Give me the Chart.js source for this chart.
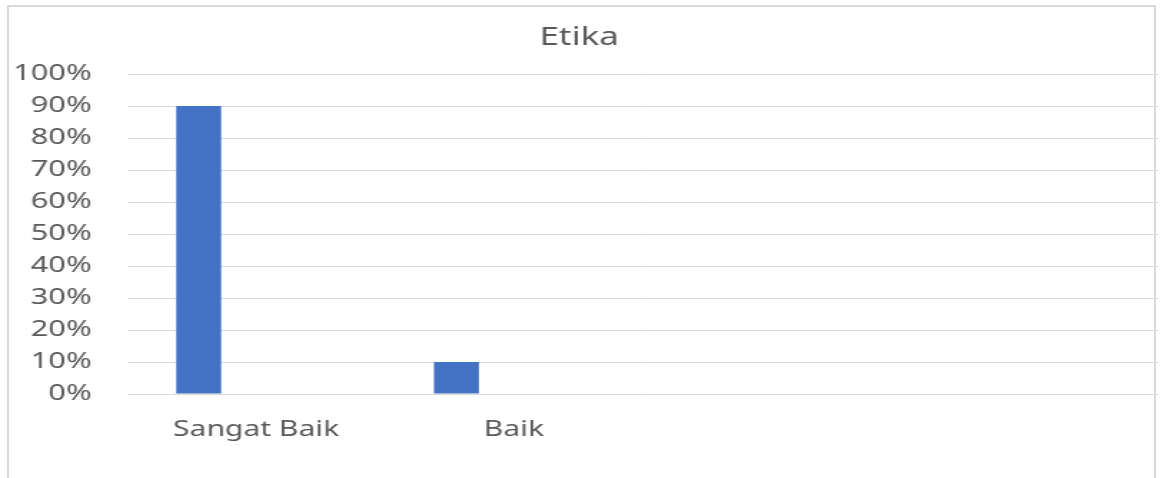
<!DOCTYPE html>
<html>
<head>
<meta charset="utf-8">
<script src="https://cdn.jsdelivr.net/npm/chart.js@4.4.1/dist/chart.umd.min.js"></script>
<style>
  html, body { margin: 0; padding: 0; background: #fff; overflow: hidden; }
  body { width: 1160px; height: 478px; position: relative; }
  #frame {
    position: absolute; left: 7px; top: 5px; width: 1149px; height: 490px;
    border: 2px solid #dadada; box-sizing: border-box;
  }
  /* the original picture is stretched horizontally, so the chart is too */
  #wrap {
    position: absolute; left: 0; top: 0; width: 811px; height: 478px;
    transform: scaleX(1.43); transform-origin: 0 0;
  }
</style>
</head>
<body>
<div id="frame"></div>
<div id="wrap"><canvas id="bars"></canvas></div>
<script>
const categorias = ['Sangat Baik', 'Baik', '', ''];
const etika = [90, 10, null, null];
const serie2 = [null, null, null, null];
const serie3 = [null, null, null, null];
const yTicks = [0, 10, 20, 30, 40, 50, 60, 70, 80, 90, 100];

const cinza = '#595959';
const azul = '#4472C4';

const barBase = {
  backgroundColor: azul,
  borderWidth: 0,
  categoryPercentage: 0.669,
  barPercentage: 0.783,
};

new Chart(document.getElementById('bars').getContext('2d'), {
  type: 'bar',
  data: {
    labels: categorias,
    datasets: [
      { label: 'Etika', data: etika, ...barBase },
      { label: ' ', data: serie2, ...barBase },
      { label: '  ', data: serie3, ...barBase },
    ],
  },
  options: {
    responsive: true,
    maintainAspectRatio: false,
    animation: false,
    layout: {
      padding: { left: 0, right: 1, top: 0, bottom: 0 },
    },
    scales: {
      x: {
        grid: { display: false },
        border: { display: false },
        ticks: {
          color: cinza,
          font: { family: 'Noto Sans', size: 21 },
          padding: 15,
          maxRotation: 0,
          autoSkip: false,
        },
        afterFit: (scale) => { scale.height = 84; },
      },
      y: {
        min: 0,
        max: 100,
        afterBuildTicks: (scale) => { scale.ticks = yTicks.map(v => ({ value: v })); },
        grid: { color: '#d9d9d9', lineWidth: 1, drawTicks: false },
        border: { display: false },
        ticks: {
          color: cinza,
          font: { family: 'Noto Sans', size: 21.5 },
          padding: 25,
          callback: (v) => v + '%',
        },
        afterFit: (scale) => { scale.width = 89; },
      },
    },
    plugins: {
      legend: { display: false },
      tooltip: { enabled: false },
      title: {
        display: true,
        text: 'Etika',
        color: cinza,
        font: { family: 'Noto Sans', size: 24.5, weight: 'normal' },
        padding: { top: 23, bottom: 21.6 },
      },
    },
  },
});
</script>
</body>
</html>
